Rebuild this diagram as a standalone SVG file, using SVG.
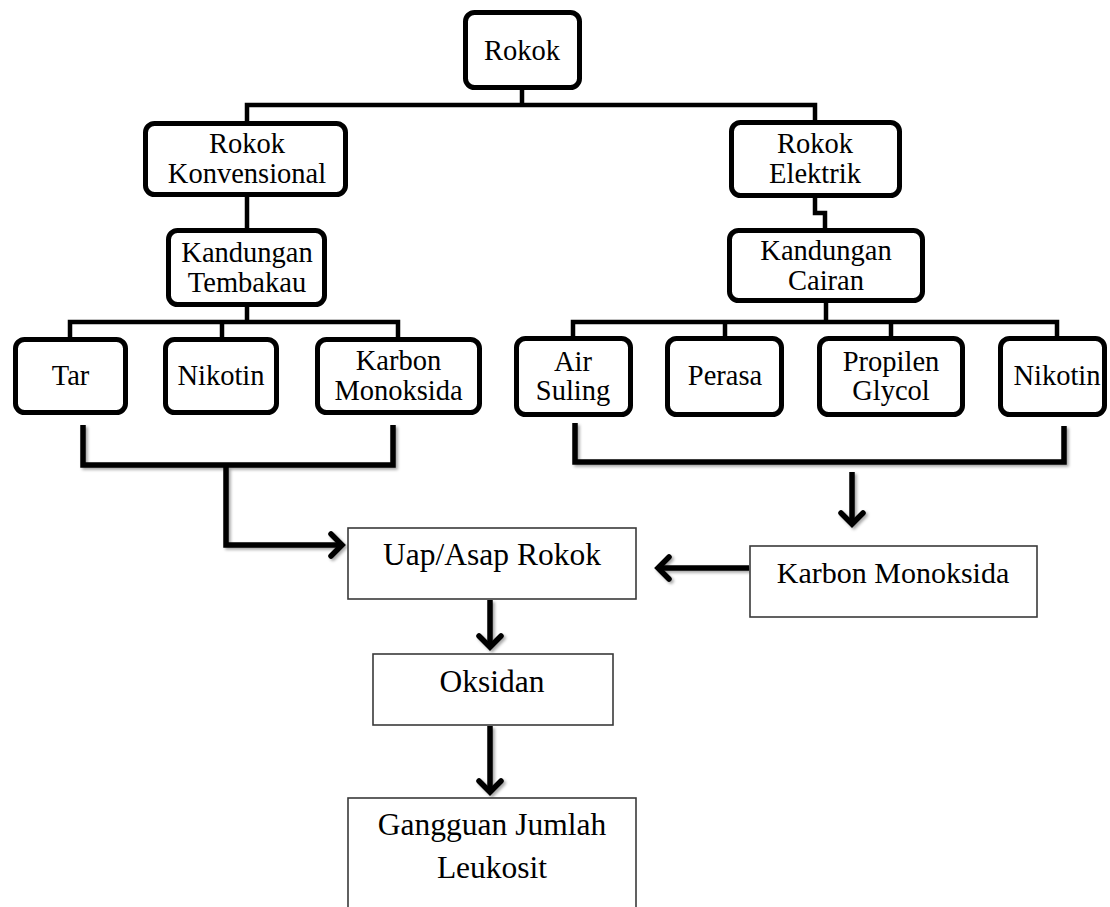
<svg xmlns="http://www.w3.org/2000/svg" width="1110" height="907" viewBox="0 0 1110 907">
<style>
.rb{fill:#fff;stroke:#000;stroke-width:5}
.sb{fill:#fff;stroke:#3a3a3a;stroke-width:1.6}
.lb2{font-family:'Liberation Serif','Times New Roman',serif;font-size:31.5px;fill:#000;text-anchor:middle}
.c{fill:none;stroke:#000;stroke-width:4.5;stroke-linejoin:miter}
.a{fill:none;stroke:#000;stroke-width:5.5;stroke-linejoin:miter}
</style>
<defs>
<filter id="sh" x="-10%" y="-10%" width="130%" height="130%">
<feDropShadow dx="2" dy="2" stdDeviation="1.5" flood-color="#000" flood-opacity="0.35"/>
</filter>
<marker id="arr" viewBox="-16 -14 20 28" markerWidth="20" markerHeight="28" refX="0" refY="0" orient="auto" markerUnits="userSpaceOnUse">
<path d="M-12,-11 L-1,0 L-12,11" fill="none" stroke="#000" stroke-width="5.5" stroke-linecap="round" stroke-linejoin="miter"/>
</marker>
</defs>
<rect width="1110" height="907" fill="#fff"/>

<g id="connectors">
<path class="c" d="M522 90 V105"/>
<path class="c" d="M247 121 V105 H815 V120"/>
<path class="c" d="M247 197 V228"/>
<path class="c" d="M247 307 V322"/>
<path class="c" d="M70 337 V322 H398 V337"/>
<path class="c" d="M222 322 V337"/>
<path class="c" d="M815 198 V213 H825 V228"/>
<path class="c" d="M826 303 V322"/>
<path class="c" d="M573 336 V322 H1057 V336"/>
<path class="c" d="M725 322 V336"/>
<path class="c" d="M891 322 V336"/>
<g filter="url(#sh)">
<path class="a" d="M83 425 V465 H393 V425"/>
<path class="a" d="M226 465 V545 H343" marker-end="url(#arr)"/>
<path class="a" d="M575 423 V462 H1064 V426"/>
<path class="a" d="M852 472 V525" marker-end="url(#arr)"/>
<path class="a" d="M749 568 H657" marker-end="url(#arr)"/>
<path class="a" d="M490 600 V648" marker-end="url(#arr)"/>
<path class="a" d="M490 726 V793" marker-end="url(#arr)"/>
</g>
</g>

<g id="rokok"><rect class="rb" x="465.5" y="12.5" width="114" height="75" rx="9"/><text class="lb2" style="font-size:28.5px" x="522" y="60">Rokok</text></g>
<g id="rokok-konvensional"><rect class="rb" x="145.5" y="123.5" width="200" height="71" rx="9"/><text class="lb2" style="font-size:28.5px" x="247" y="153">Rokok</text><text class="lb2" style="font-size:28.5px" x="247" y="183">Konvensional</text></g>
<g id="kandungan-tembakau"><rect class="rb" x="168.5" y="230.5" width="156" height="74" rx="9"/><text class="lb2" style="font-size:28.5px" x="247" y="262">Kandungan</text><text class="lb2" style="font-size:28.5px" x="247" y="292">Tembakau</text></g>
<g id="tar"><rect class="rb" x="15.5" y="339.5" width="110" height="73" rx="9"/><text class="lb2" style="font-size:28.5px" x="70.5" y="385">Tar</text></g>
<g id="nikotin-1"><rect class="rb" x="165.5" y="339.5" width="111" height="73" rx="9"/><text class="lb2" style="font-size:28.5px" x="221" y="385">Nikotin</text></g>
<g id="karbon-monoksida-1"><rect class="rb" x="317.5" y="339.5" width="162" height="73" rx="9"/><text class="lb2" style="font-size:28.5px" x="398.5" y="370">Karbon</text><text class="lb2" style="font-size:28.5px" x="398.5" y="400">Monoksida</text></g>

<g id="rokok-elektrik"><rect class="rb" x="731.5" y="122.5" width="168" height="73" rx="9"/><text class="lb2" style="font-size:28.5px" x="815" y="153">Rokok</text><text class="lb2" style="font-size:28.5px" x="815" y="183">Elektrik</text></g>
<g id="kandungan-cairan"><rect class="rb" x="729.5" y="230.5" width="193" height="70" rx="9"/><text class="lb2" style="font-size:28.5px" x="826" y="260">Kandungan</text><text class="lb2" style="font-size:28.5px" x="826" y="290">Cairan</text></g>
<g id="air-suling"><rect class="rb" x="516.5" y="338.5" width="114" height="76" rx="9"/><text class="lb2" style="font-size:28.5px" x="573" y="371">Air</text><text class="lb2" style="font-size:28.5px" x="573" y="400">Suling</text></g>
<g id="perasa"><rect class="rb" x="667.5" y="338.5" width="114" height="76" rx="9"/><text class="lb2" style="font-size:28.5px" x="725" y="385">Perasa</text></g>
<g id="propilen-glycol"><rect class="rb" x="819.5" y="338.5" width="143" height="76" rx="9"/><text class="lb2" style="font-size:28.5px" x="891" y="371">Propilen</text><text class="lb2" style="font-size:28.5px" x="891" y="400">Glycol</text></g>
<g id="nikotin-2"><rect class="rb" x="1000.5" y="338.5" width="104" height="76" rx="9"/><text class="lb2" style="font-size:28.5px" x="1057" y="385">Nikotin</text></g>

<g id="uap-asap-rokok"><rect class="sb" x="348" y="528" width="288" height="71"/><text class="lb2" x="492" y="565">Uap/Asap Rokok</text></g>
<g id="karbon-monoksida-2"><rect class="sb" x="750" y="546" width="287" height="71"/><text class="lb2" x="893" y="583" style="font-size:30px">Karbon Monoksida</text></g>
<g id="oksidan"><rect class="sb" x="373" y="654" width="240" height="71"/><text class="lb2" x="492" y="692">Oksidan</text></g>
<g id="gangguan-jumlah-leukosit"><rect class="sb" x="348" y="798" width="288" height="130"/><text class="lb2" x="492" y="835">Gangguan Jumlah</text><text class="lb2" x="492" y="878">Leukosit</text></g>
</svg>
